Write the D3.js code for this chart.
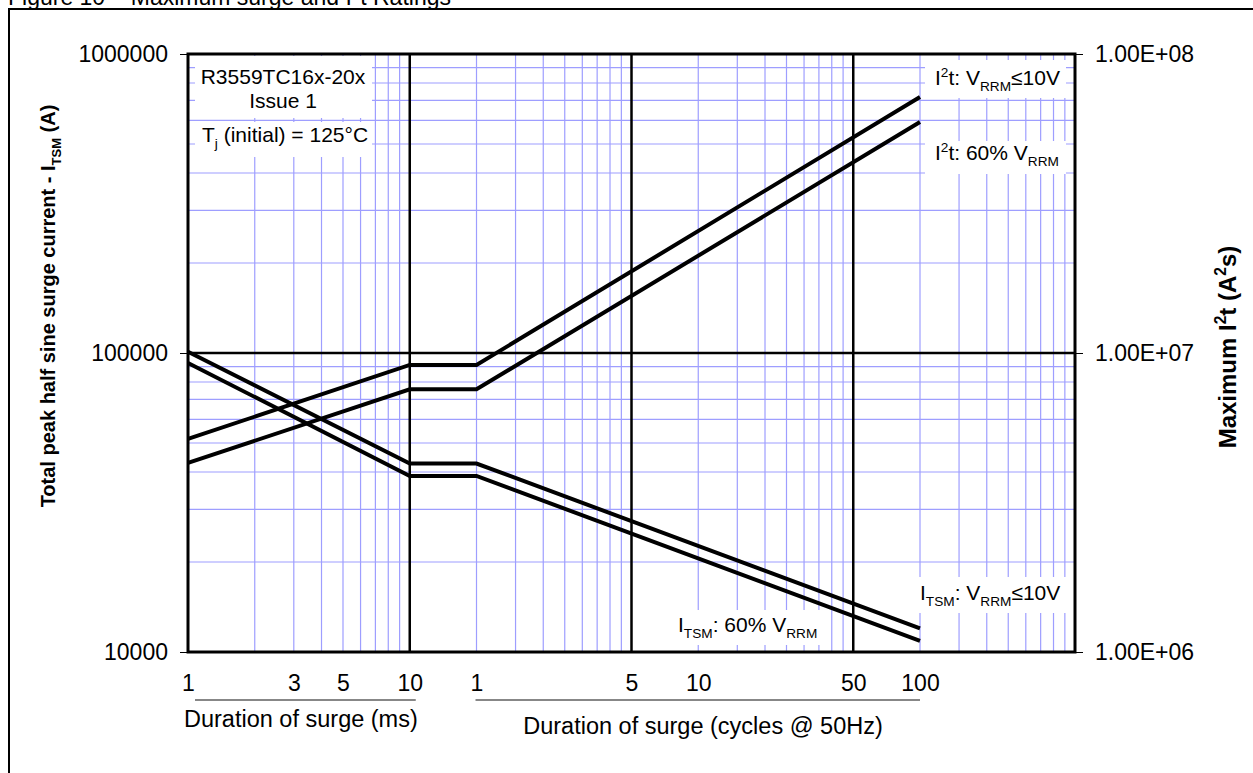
<!DOCTYPE html>
<html>
<head>
<meta charset="utf-8">
<script src="https://cdn.jsdelivr.net/npm/d3@7"></script>
<style>
  body { margin: 0; background: #fff; }
  svg { font-family: "Liberation Sans", Arial, sans-serif; }
</style>
</head>
<body>
<svg id="chart" width="1253" height="773"></svg>
<script>
// durations in ms (1 cycle @ 50Hz = 20 ms)
var durationMs = [1, 10, 20, 2000];
var itsm10V = [101000, 42700, 42700, 12000];
var itsm60 = [92600, 38800, 38800, 10900];
var i2t10V = [5.16e6, 9.12e6, 9.12e6, 7.18e7];
var i2t60 = [4.29e6, 7.56e6, 7.56e6, 5.92e7];

var xTickValues = [1, 3, 5, 10, 20, 100, 200, 1000, 2000];
var xTickLabels = ['1', '3', '5', '10', '1', '5', '10', '50', '100'];
var yLeftTicks = [1e4, 1e5, 1e6];
var yRightTicks = [1e6, 1e7, 1e8];
var yRightLabels = ['1.00E+06', '1.00E+07', '1.00E+08'];

var plotLeft = 188, plotRight = 1075, plotTop = 54, plotBottom = 652;
var gridBlue = '#9e9eff';

var svg = d3.select('#chart');

var x = d3.scaleLog().domain([1, 10000]).range([plotLeft, plotRight]);
var yL = d3.scaleLog().domain([1e4, 1e6]).range([plotBottom, plotTop]);
var yR = d3.scaleLog().domain([1e6, 1e8]).range([plotBottom, plotTop]);

function isDecade(v) {
  return Math.abs(Math.log10(v) - Math.round(Math.log10(v))) < 1e-9;
}

// outer frame and title
svg.append('rect').attr('x', 9).attr('y', 9).attr('width', 1300).attr('height', 820)
   .attr('fill', 'none').attr('stroke', '#000').attr('stroke-width', 2);

var title = svg.append('text').attr('x', 8).attr('y', 5).attr('font-size', 23);
title.append('tspan').text('Figure 10 \u2013 Maximum surge and I');
title.append('tspan').attr('font-size', 15).attr('dy', -9).text('2');
title.append('tspan').attr('dy', 9).text('t Ratings');

// minor grid
var grid = svg.append('g');
grid.selectAll('line.vx')
   .data(x.ticks().filter(function (d) { return !isDecade(d); }))
   .enter().append('line')
   .attr('x1', function (d) { return x(d); }).attr('x2', function (d) { return x(d); })
   .attr('y1', plotTop).attr('y2', plotBottom)
   .attr('stroke', gridBlue).attr('stroke-width', 1.2);

grid.selectAll('line.hy')
   .data(yL.ticks().filter(function (d) { return !isDecade(d); }))
   .enter().append('line')
   .attr('y1', function (d) { return yL(d); }).attr('y2', function (d) { return yL(d); })
   .attr('x1', plotLeft).attr('x2', plotRight)
   .attr('stroke', gridBlue).attr('stroke-width', 1.2);

// white label boxes over the grid
var boxes = [
  [195, 56, 177, 62], [195, 122, 177, 35],
  [925, 60, 141, 38], [925, 141, 141, 33],
  [913, 577, 157, 36], [668, 610, 158, 35]
];
svg.selectAll('rect.box').data(boxes).enter().append('rect')
   .attr('x', function (d) { return d[0]; }).attr('y', function (d) { return d[1]; })
   .attr('width', function (d) { return d[2]; }).attr('height', function (d) { return d[3]; })
   .attr('fill', '#fff');

// major grid
svg.selectAll('line.mx').data([10, 100, 1000]).enter().append('line')
   .attr('x1', function (d) { return x(d); }).attr('x2', function (d) { return x(d); })
   .attr('y1', plotTop).attr('y2', plotBottom)
   .attr('stroke', '#000').attr('stroke-width', 2.5);
svg.selectAll('line.my').data([1e5]).enter().append('line')
   .attr('y1', function (d) { return yL(d); }).attr('y2', function (d) { return yL(d); })
   .attr('x1', plotLeft).attr('x2', plotRight)
   .attr('stroke', '#000').attr('stroke-width', 2.5);

// data lines
function series(vals, scale) {
  return durationMs.map(function (t, i) { return [x(t), scale(vals[i])]; });
}
var line = d3.line();
[[itsm10V, yL], [itsm60, yL], [i2t10V, yR], [i2t60, yR]].forEach(function (s) {
  svg.append('path').attr('d', line(series(s[0], s[1])))
     .attr('fill', 'none').attr('stroke', '#000').attr('stroke-width', 4)
     .attr('stroke-linejoin', 'miter');
});

// plot border
svg.append('rect').attr('x', plotLeft).attr('y', plotTop)
   .attr('width', plotRight - plotLeft).attr('height', plotBottom - plotTop)
   .attr('fill', 'none').attr('stroke', '#000').attr('stroke-width', 3);

// axes
var axL = svg.append('g').attr('transform', 'translate(' + plotLeft + ',0)')
   .call(d3.axisLeft(yL).tickValues(yLeftTicks).tickSize(8).tickPadding(12).tickFormat(d3.format('d')));
var axR = svg.append('g').attr('transform', 'translate(' + plotRight + ',0)')
   .call(d3.axisRight(yR).tickValues(yRightTicks).tickSize(8).tickPadding(12)
   .tickFormat(function (d, i) { return yRightLabels[i]; }));
var axB = svg.append('g').attr('transform', 'translate(0,' + plotBottom + ')')
   .call(d3.axisBottom(x).tickValues(xTickValues).tickSize(0).tickPadding(23)
   .tickFormat(function (d, i) { return xTickLabels[i]; }));
[axL, axR, axB].forEach(function (a) {
  a.select('.domain').remove();
  a.selectAll('text').attr('font-size', 23).attr('fill', '#000')
   .attr('font-family', '"Liberation Sans", Arial, sans-serif');
  a.selectAll('line').attr('stroke', '#000');
});

// x axis captions
svg.append('line').attr('x1', x(1) + 7).attr('x2', x(10) + 6).attr('y1', 700).attr('y2', 700)
   .attr('stroke', '#111').attr('stroke-width', 1.2);
svg.append('line').attr('x1', x(20) - 1).attr('x2', x(2000)).attr('y1', 700).attr('y2', 700)
   .attr('stroke', '#111').attr('stroke-width', 1.2);
svg.append('text').attr('x', 184).attr('y', 727).attr('font-size', 23.5).text('Duration of surge (ms)');
svg.append('text').attr('x', 703).attr('y', 734).attr('font-size', 23.5).attr('text-anchor', 'middle')
   .text('Duration of surge (cycles @ 50Hz)');

// rich text helper: parts = [text, 'sub'|'sup'|null]
function rich(parent, px, py, size, parts, anchor) {
  var t = parent.append('text').attr('x', px).attr('y', py).attr('font-size', size)
     .attr('text-anchor', anchor || 'start');
  var shift = 0;
  parts.forEach(function (p) {
    var target = p[1] === 'sub' ? size * 0.3 : p[1] === 'sup' ? -size * 0.4 : 0;
    var ts = t.append('tspan').attr('dy', target - shift).text(p[0]);
    if (p[1]) ts.attr('font-size', size * 0.65);
    shift = target;
  });
  return t;
}

svg.append('text').attr('x', 283).attr('y', 84).attr('font-size', 21).attr('text-anchor', 'middle').text('R3559TC16x-20x');
svg.append('text').attr('x', 283).attr('y', 108).attr('font-size', 21).attr('text-anchor', 'middle').text('Issue 1');
rich(svg, 202, 142, 21, [['T'], ['j', 'sub'], [' (initial) = 125\u00b0C']]);

rich(svg, 935, 85, 21, [['I'], ['2', 'sup'], ['t: V'], ['RRM', 'sub'], ['\u226410V']]);
rich(svg, 935, 160, 21, [['I'], ['2', 'sup'], ['t: 60% V'], ['RRM', 'sub']]);
rich(svg, 920, 600, 21, [['I'], ['TSM', 'sub'], [': V'], ['RRM', 'sub'], ['\u226410V']]);
rich(svg, 678, 632, 21, [['I'], ['TSM', 'sub'], [': 60% V'], ['RRM', 'sub']]);

// axis titles
rich(svg, 0, 0, 20, [['Total peak half sine surge current - I'], ['TSM', 'sub'], [' (A)']], 'middle')
   .attr('font-weight', 'bold').attr('transform', 'translate(55,306) rotate(-90)');
rich(svg, 0, 0, 24, [['Maximum I'], ['2', 'sup'], ['t (A'], ['2', 'sup'], ['s)']], 'middle')
   .attr('font-weight', 'bold').attr('transform', 'translate(1236,347) rotate(-90)');
</script>
</body>
</html>
